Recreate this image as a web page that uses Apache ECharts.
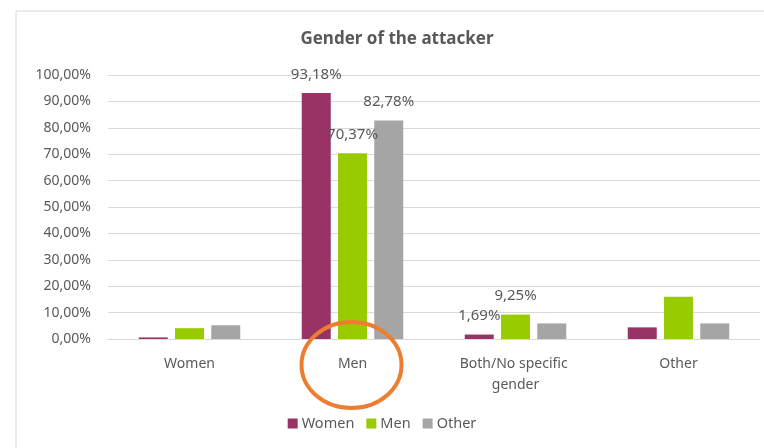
<!DOCTYPE html>
<html><head><meta charset="utf-8">
<script src="https://cdn.jsdelivr.net/npm/echarts@6/dist/echarts.min.js"></script>
<style>html,body{margin:0;padding:0;background:#fff}#c{width:764px;height:448px}</style>
</head><body><div id="c"></div>
<script>
var categories = ['Women', 'Men', 'Both/No specific gender', 'Other'];
var womenValues = [0.6, 93.18, 1.69, 4.4];
var menValues = [4.1, 70.37, 9.25, 16.0];
var otherValues = [5.2, 82.78, 5.9, 5.9];
var seriesNames = ['Women', 'Men', 'Other'];
var labeled = { Women: [1, 2], Men: [1, 2], Other: [1] };
var yTicks = [0, 10, 20, 30, 40, 50, 60, 70, 80, 90, 100];

function pct(v) { return v.toFixed(2).replace('.', ',') + '%'; }
var FONT = '"Noto Sans", sans-serif';
var TXT = '#595959';

function mk(name, vals, color) {
  return {
    name: name, type: 'bar', barWidth: 29, barGap: '25%',
    itemStyle: { color: color },
    data: vals.map(function (v, i) {
      var d = { value: v };
      if (labeled[name].indexOf(i) >= 0) {
        d.label = { show: true, position: 'top', distance: 11, formatter: function (p) { return pct(p.value); },
          color: TXT, fontSize: 15, fontFamily: FONT };
      }
      return d;
    })
  };
}

var chart = echarts.init(document.getElementById('c'));
chart.setOption({
  animation: false,
  title: { text: 'Gender of the attacker', left: 392, textAlign: 'center', top: 26,
    textStyle: { fontSize: 17, fontWeight: 'bold', color: TXT, fontFamily: FONT } },
  legend: { bottom: 12, left: 'center', itemWidth: 10, itemHeight: 10, itemGap: 12,
    icon: 'rect', textStyle: { fontSize: 14.5, color: TXT, fontFamily: FONT, padding: [0, 0, 0, -1] } },
  grid: { left: 108, right: 4, top: 75, bottom: 109, containLabel: false },
  xAxis: { type: 'category', data: categories,
    axisLine: { lineStyle: { color: '#D9D9D9' } }, axisTick: { show: false },
    axisLabel: { color: TXT, fontSize: 14, fontFamily: FONT, margin: 15, lineHeight: 21,
      width: 125, overflow: 'break', interval: 0 } },
  yAxis: { type: 'value', min: yTicks[0], max: yTicks[yTicks.length - 1], interval: 10,
    axisLine: { show: false }, axisTick: { show: false },
    splitLine: { lineStyle: { color: '#D9D9D9' } },
    axisLabel: { color: TXT, fontSize: 14, fontFamily: FONT, margin: 17, formatter: function (v) { return pct(v); } } },
  series: [mk('Women', womenValues, '#993366'), mk('Men', menValues, '#99CC00'), mk('Other', otherValues, '#A5A5A5')]
});

var cx = chart.convertToPixel({ xAxisIndex: 0 }, 'Men');
var y0 = chart.convertToPixel({ yAxisIndex: 0 }, 0);
chart.setOption({
  graphic: [
    { type: 'polyline', shape: { points: [[16, 448], [16, 11], [764, 11]] }, style: { stroke: '#D9D9D9', lineWidth: 1, fill: null }, z: 0 },
    { type: 'ellipse', shape: { cx: cx - 1, cy: y0 + 26, rx: 50, ry: 43 }, style: { stroke: '#ED7D31', lineWidth: 4, fill: null }, z: 100 }
  ]
});
</script></body></html>
